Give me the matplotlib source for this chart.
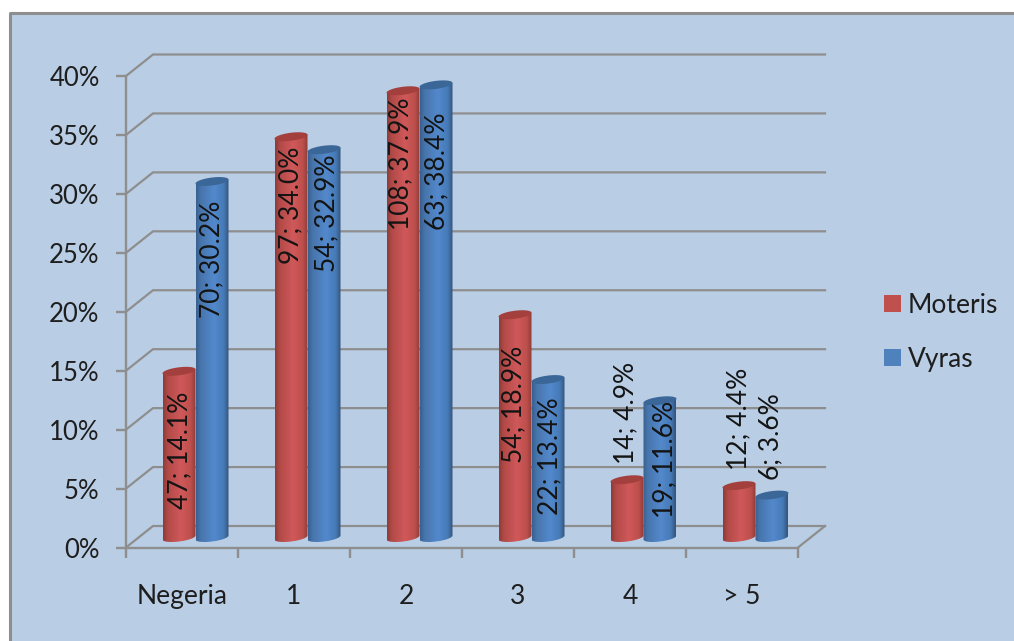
import numpy as np
import matplotlib
matplotlib.use("Agg")
import matplotlib.pyplot as plt
from matplotlib.colors import LinearSegmentedColormap
from matplotlib.lines import Line2D
from matplotlib.patches import Patch, Polygon, Rectangle
from matplotlib.ticker import PercentFormatter

categories = ["Negeria", "1", "2", "3", "4", "> 5"]
series_names = ["Moteris", "Vyras"]
moteris_counts = [47, 97, 108, 54, 14, 12]
moteris_pct = [14.1, 34.0, 37.9, 18.9, 4.9, 4.4]
vyras_counts = [70, 54, 63, 22, 19, 6]
vyras_pct = [30.2, 32.9, 38.4, 13.4, 11.6, 3.6]

# Hand placement of the value labels, in pixels from the centre of each bar top
moteris_label_shift = [(1, -79), (0, -69), (-2, -73), (-1, -90), (-1, 67), (0, 67)]
vyras_label_shift = [(0, -78), (3, -64), (1, -86), (2, -77), (5, -59), (-1, 58)]

W, H = 1014, 641
PANEL = "#B9CDE5"
LINE = "#8E8E8E"
INK = "#1E1E1E"
FONT = "Lato"

plt.rcParams["font.family"] = [FONT, "DejaVu Sans"]
fig = plt.figure(figsize=(W / 100, H / 100), dpi=100, facecolor="white")


def fx(px):
    return px / W


def fy(py):
    return 1 - py / H


# Chart area with a border on its top and left edges only
fig.add_artist(Rectangle((fx(9.5), 0), 1 - fx(9.5), fy(12.5), transform=fig.transFigure,
                         facecolor=PANEL, edgecolor="none", zorder=-2))
fig.add_artist(Line2D([fx(9.5), fx(9.5), 1], [0, fy(12.5), fy(12.5)], transform=fig.transFigure,
                      color=LINE, lw=2.2, zorder=-1))

ax = fig.add_axes([fx(126), fy(547.5), fx(798) - fx(126), fy(76) - fy(547.5)])
ax.patch.set_alpha(0)
ax.set_xlim(0, len(categories))
ax.set_ylim(0, 40)
ax.set_autoscale_on(False)

px_x = len(categories) / (798 - 126)
px_y = 40 / (547.5 - 76)
depth_x, depth_y = 27 * px_x, 21.5 * px_y

# Side wall and back wall gridlines
yticks = np.arange(0, 45, 5)
for y in yticks:
    ax.plot([0, depth_x, len(categories) + depth_x], [y, y + depth_y, y + depth_y],
            color=LINE, lw=1.6, clip_on=False, zorder=1, solid_joinstyle="miter")
ax.plot([len(categories), len(categories) + depth_x], [0, depth_y], color=LINE, lw=1.6,
        clip_on=False, zorder=1)

for side in ("top", "right"):
    ax.spines[side].set_visible(False)
for side in ("left", "bottom"):
    ax.spines[side].set_color(LINE)
    ax.spines[side].set_linewidth(1.7)
    ax.spines[side].set_zorder(1)

ax.yaxis.set_major_formatter(PercentFormatter(decimals=0))
ax.set_yticks(yticks)
ax.set_xticks(np.arange(len(categories) + 1))
ax.set_xticklabels([])
ax.set_xticks(np.arange(len(categories)) + 0.5, labels=categories, minor=True)
ax.tick_params(axis="both", which="major", length=7, width=1.7, color=LINE)
ax.tick_params(axis="y", labelsize=18.5, labelcolor=INK, pad=12)
ax.tick_params(axis="x", which="minor", length=0, labelsize=19, labelcolor=INK, pad=26)

# Cylinder geometry
bar_w = 33 * px_x
bar_start = 36.5 * px_x
base_lift = 10 * px_y
semi_minor = 4.0 * px_y
tilt = 2.0 * px_y

red_map = LinearSegmentedColormap.from_list(
    "red_cyl", [(0, "#8E3B39"), (0.14, "#B24A47"), (0.55, "#D0595A"), (0.85, "#BC4F4C"), (1, "#8F3B39")])
blue_map = LinearSegmentedColormap.from_list(
    "blue_cyl", [(0, "#3A618F"), (0.14, "#4775AC"), (0.55, "#5389CC"), (0.85, "#467AB7"), (1, "#33547D")])


def rim(x0, level, start, stop):
    """Points along the tilted elliptical rim of a cylinder, between two angles."""
    t = np.linspace(start, stop, 40)
    xs = x0 + bar_w / 2 + np.cos(t) * bar_w / 2
    ys = level + np.cos(t) * tilt + np.sin(t) * semi_minor
    return xs, ys


def cylinder(x0, value, cmap, cap):
    top = value + base_lift
    low_x, low_y = rim(x0, base_lift, np.pi, 2 * np.pi)
    up_t = np.linspace(0, np.pi, 40)
    up_x = x0 + bar_w / 2 + np.cos(up_t) * bar_w / 2
    up_y = top + np.cos(up_t) * tilt
    body = Polygon(np.c_[np.r_[low_x, up_x], np.r_[low_y, up_y]], closed=True,
                   facecolor="none", edgecolor="none", zorder=3)
    ax.add_patch(body)
    shade = ax.imshow(np.linspace(0, 1, 64)[None, :], extent=[x0, x0 + bar_w, 0, 41], aspect="auto",
                      cmap=cmap, interpolation="bilinear", zorder=3, origin="lower")
    shade.set_clip_path(body)
    lid_x, lid_y = rim(x0, top, 0, 2 * np.pi)
    ax.add_patch(Polygon(np.c_[lid_x, lid_y], closed=True, facecolor=cap, edgecolor="none", zorder=3,
                         clip_on=False))


def value_label(x0, value, count, shift):
    ax.annotate(f"{count}; {value:.1f}%", xy=(x0 + bar_w / 2, value + base_lift),
                xytext=(shift[0] * 0.72, shift[1] * 0.72), textcoords="offset points",
                rotation=90, ha="center", va="center", fontsize=19, color="#141414", zorder=5,
                annotation_clip=False)


for i in range(len(categories)):
    red_x = i + bar_start
    blue_x = red_x + bar_w
    cylinder(red_x, moteris_pct[i], red_map, "#A3403D")
    cylinder(blue_x, vyras_pct[i], blue_map, "#3B6698")

for i in range(len(categories)):
    red_x = i + bar_start
    blue_x = red_x + bar_w
    value_label(red_x, moteris_pct[i], moteris_counts[i], moteris_label_shift[i])
    value_label(blue_x, vyras_pct[i], vyras_counts[i], vyras_label_shift[i])

ax.set_xlim(0, len(categories))
ax.set_ylim(0, 40)

handles = [Patch(facecolor="#C0504D", edgecolor="none", label=series_names[0]),
           Patch(facecolor="#4F81BD", edgecolor="none", label=series_names[1])]
fig.legend(handles=handles, loc="upper left", bbox_to_anchor=(fx(884), fy(293)), frameon=False,
           fontsize=19, labelcolor=INK, handlelength=0.645, handleheight=0.645, handletextpad=0.25,
           labelspacing=1.09, borderpad=0, borderaxespad=0)

fig.savefig("out.png", dpi=100)
